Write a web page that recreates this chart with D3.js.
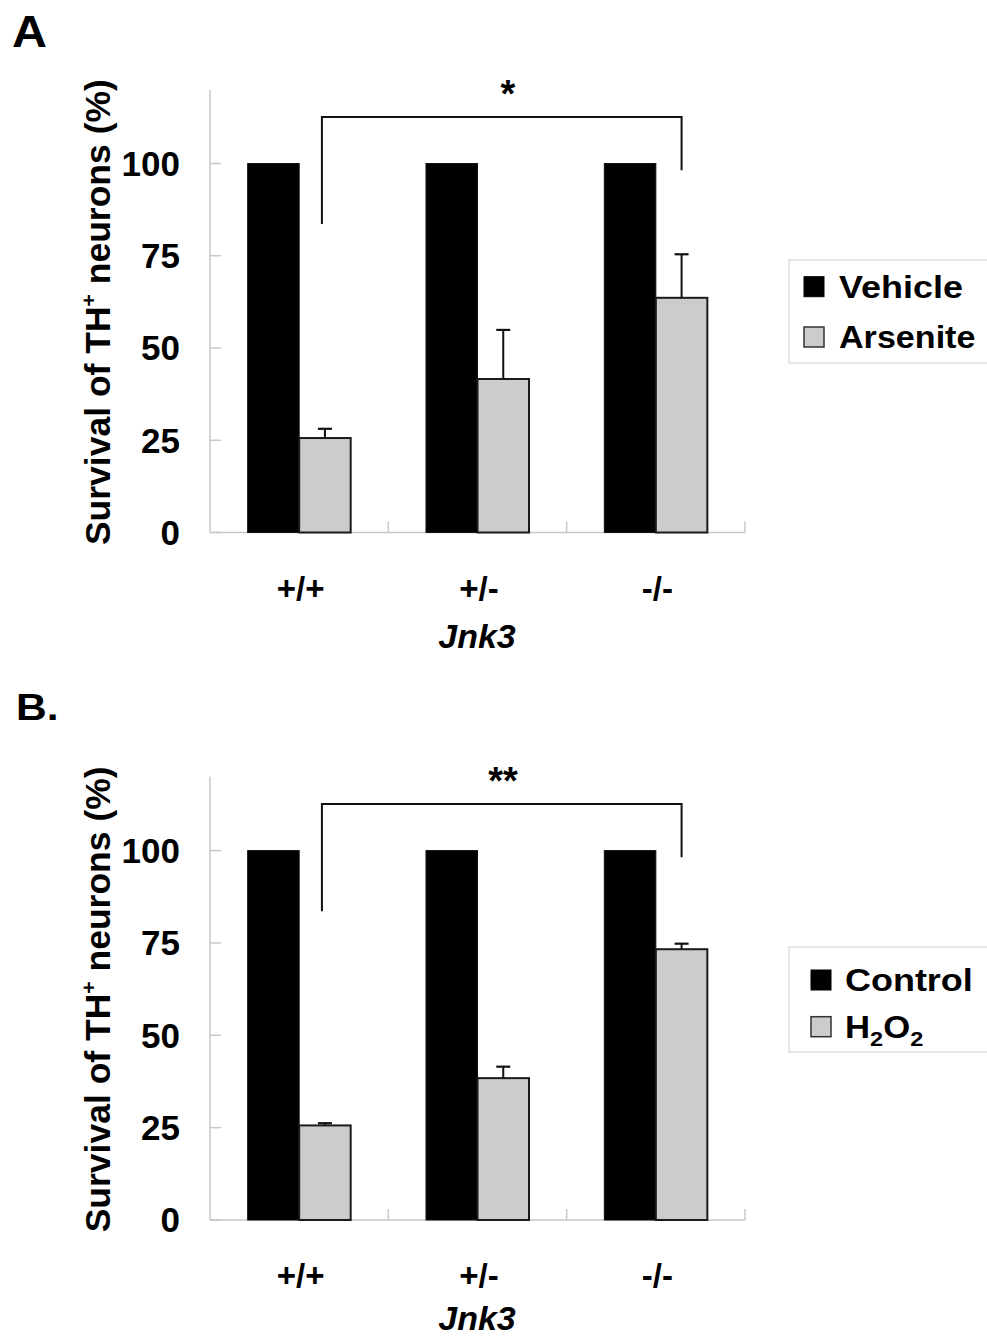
<!DOCTYPE html>
<html>
<head>
<meta charset="utf-8">
<script src="https://cdn.jsdelivr.net/npm/d3@7"></script>
<style>
  html, body { margin: 0; padding: 0; background: #fff; }
  svg { display: block; font-family: "Liberation Sans", Arial, Helvetica, sans-serif; }
</style>
</head>
<body>
<svg id="chart" width="987" height="1339"></svg>
<script>
// ---- Data ----
const categories = ["+/+", "+/-", "-/-"];
const yTicks = [0, 25, 50, 75, 100];
const xTitle = "Jnk3";

// Panel A
const seriesA = ["Vehicle", "Arsenite"];
const vehicleValues = [100, 100, 100];
const arseniteValues = [25.6, 41.6, 63.6];
const arseniteErrors = [2.5, 13.3, 11.8];
const sigA = "*";

// Panel B
const seriesB = ["Control", "H2O2"];
const controlValues = [100, 100, 100];
const h2o2Values = [25.6, 38.4, 73.3];
const h2o2Errors = [0.6, 3.1, 1.5];
const sigB = "**";

// significance bracket levels (value units): top, left end, right end
const bracketLevels = [112.6, 83.6, 98.2];

const yMax = 120;
const fills = ["#000000", "#cccccc"];

const svg = d3.select("#chart");

function drawPanel(opts) {
  const g = svg.append("g");
  const x0 = d3.scaleBand().domain(categories).range([210, 745]).paddingInner(0).paddingOuter(0);
  const x1 = d3.scaleBand().domain(opts.series).range([0, x0.bandwidth()]).paddingInner(0).paddingOuter(0.731);
  const y = d3.scaleLinear().domain([0, yMax]).range([opts.base, opts.top]);

  // panel letter
  g.append("text")
    .attr("transform", `translate(${opts.labelX},${opts.labelY}) scale(${opts.labelScale},1)`)
    .attr("font-size", opts.labelSize).attr("font-weight", "bold").text(opts.label);

  // y axis line
  g.append("line").attr("x1", 210).attr("x2", 210).attr("y1", y(0)).attr("y2", y(yMax))
    .attr("stroke", "#c8c8c8").attr("stroke-width", 1.5);
  // y ticks (inward)
  g.selectAll(".yt").data(yTicks).enter().append("line")
    .attr("x1", 210).attr("x2", 221).attr("y1", d => y(d)).attr("y2", d => y(d))
    .attr("stroke", "#c8c8c8").attr("stroke-width", 1.5);
  g.selectAll(".yl").data(yTicks).enter().append("text")
    .attr("x", 180).attr("y", d => y(d) + 12.3)
    .attr("text-anchor", "end").attr("font-size", 35).attr("font-weight", "bold")
    .text(d => d);

  // x axis line
  g.append("line").attr("x1", 210).attr("x2", 745).attr("y1", y(0)).attr("y2", y(0))
    .attr("stroke", "#c8c8c8").attr("stroke-width", 1.5);
  g.selectAll(".xt").data(categories).enter().append("line")
    .attr("x1", d => x0(d) + x0.bandwidth()).attr("x2", d => x0(d) + x0.bandwidth())
    .attr("y1", y(0)).attr("y2", y(0) - 11)
    .attr("stroke", "#c8c8c8").attr("stroke-width", 1.5);

  // bars
  const rows = categories.map((c, i) => ({c, i}));
  const grp = g.selectAll(".grp").data(rows).enter().append("g")
    .attr("transform", d => `translate(${x0(d.c)},0)`);
  // control/vehicle
  grp.append("rect")
    .attr("x", x1(opts.series[0])).attr("width", x1.bandwidth())
    .attr("y", d => y(opts.v0[d.i])).attr("height", d => y(0) - y(opts.v0[d.i]))
    .attr("fill", fills[0]).attr("stroke", "#111").attr("stroke-width", 1);
  // treatment
  grp.append("rect")
    .attr("x", x1(opts.series[1])).attr("width", x1.bandwidth())
    .attr("y", d => y(opts.v1[d.i])).attr("height", d => y(0) - y(opts.v1[d.i]))
    .attr("fill", fills[1]).attr("stroke", "#1a1a1a").attr("stroke-width", 2);
  // error bars
  const cx = x1(opts.series[1]) + x1.bandwidth() / 2;
  grp.append("line")
    .attr("x1", cx).attr("x2", cx)
    .attr("y1", d => y(opts.v1[d.i])).attr("y2", d => y(opts.v1[d.i] + opts.err[d.i]))
    .attr("stroke", "#111").attr("stroke-width", 2);
  grp.append("line")
    .attr("x1", cx - 7).attr("x2", cx + 7)
    .attr("y1", d => y(opts.v1[d.i] + opts.err[d.i])).attr("y2", d => y(opts.v1[d.i] + opts.err[d.i]))
    .attr("stroke", "#111").attr("stroke-width", 2.2);

  // category labels
  g.selectAll(".xl").data(categories).enter().append("text")
    .attr("x", d => x0(d) + x0.bandwidth() / 2 + 1.5).attr("y", y(0) + 67)
    .attr("text-anchor", "middle").attr("font-size", 33).attr("font-weight", "bold")
    .text(d => d);
  g.append("text").attr("x", 477).attr("y", y(0) + opts.xTitleOff)
    .attr("text-anchor", "middle").attr("font-size", 34).attr("font-weight", "bold")
    .attr("font-style", "italic").text(xTitle);

  // y title
  const yt = g.append("text")
    .attr("transform", `translate(110,${(y(0) + y(yMax)) / 2 + 1}) rotate(-90)`)
    .attr("text-anchor", "middle").attr("font-size", 35.5).attr("font-weight", "bold");
  yt.append("tspan").text("Survival of TH");
  yt.append("tspan").attr("font-size", 21).attr("dy", -14).text("+");
  yt.append("tspan").attr("dy", 14).text(" neurons (%)");

  // significance bracket
  const bxL = x0(categories[0]) + cx;
  const bxR = x0(categories[2]) + cx;
  g.append("path")
    .attr("d", `M${bxL - 3},${y(bracketLevels[1])}V${y(bracketLevels[0])}H${bxR}V${y(bracketLevels[2])}`)
    .attr("fill", "none").attr("stroke", "#111").attr("stroke-width", 2);
  g.append("text").attr("x", opts.sigX).attr("y", y(bracketLevels[0]) - 10)
    .attr("text-anchor", "middle").attr("font-size", 38).attr("font-weight", "bold")
    .text(opts.sig);

  // legend
  const lg = g.append("g");
  lg.append("rect").attr("x", 789).attr("y", opts.legY).attr("width", 210).attr("height", opts.legH)
    .attr("fill", "#fff").attr("stroke", "#d6d6d6").attr("stroke-width", 1.2);
  opts.series.forEach((s, i) => {
    const sy = opts.legY + opts.legSq[i];
    lg.append("rect").attr("x", opts.legSqX).attr("y", sy).attr("width", 20).attr("height", 20)
      .attr("fill", fills[i]).attr("stroke", i === 0 ? "#000" : "#333").attr("stroke-width", i === 0 ? 1 : 1.5);
    const t = lg.append("text")
      .attr("transform", `translate(${opts.legTX},${sy + 21}) scale(${opts.legScale[i]},1)`)
      .attr("font-size", 31).attr("font-weight", "bold");
    if (s === "H2O2") {
      t.append("tspan").text("H");
      t.append("tspan").attr("font-size", 21).attr("dy", 8).text("2");
      t.append("tspan").attr("dy", -8).text("O");
      t.append("tspan").attr("font-size", 21).attr("dy", 8).text("2");
    } else {
      t.text(s);
    }
  });
}

drawPanel({
  label: "A", labelX: 12, labelY: 47, labelSize: 44, labelScale: 1.1,
  base: 532.5, top: 89.7,
  series: seriesA, v0: vehicleValues, v1: arseniteValues, err: arseniteErrors,
  sig: sigA, sigX: 508, xTitleOff: 115,
  legY: 260, legH: 103, legSq: [16.7, 67], legSqX: 804, legTX: 839, legScale: [1.16, 1.1]
});

drawPanel({
  label: "B.", labelX: 16, labelY: 720, labelSize: 37, labelScale: 1.15,
  base: 1220, top: 776.7,
  series: seriesB, v0: controlValues, v1: h2o2Values, err: h2o2Errors,
  sig: sigB, sigX: 503, xTitleOff: 110,
  legY: 947, legH: 105, legSq: [23, 69.7], legSqX: 811, legTX: 845, legScale: [1.16, 1.12]
});
</script>
</body>
</html>
